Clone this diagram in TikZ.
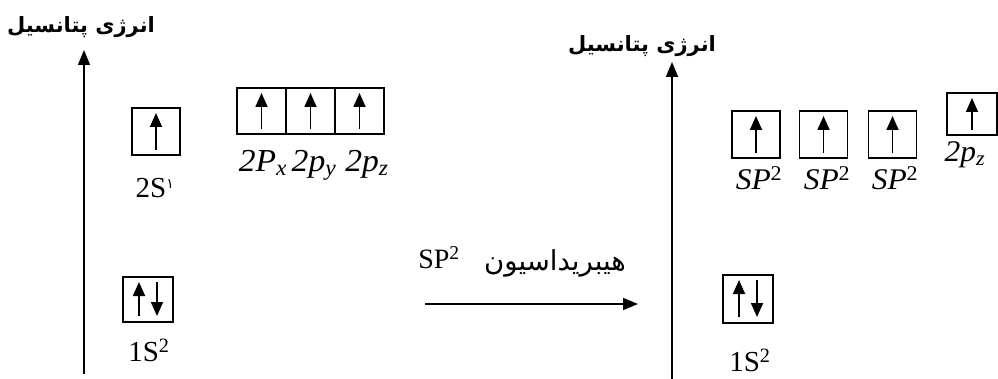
\documentclass[tikz,border=0pt]{standalone}
\usepackage{fontspec}
\setmainfont{Liberation Serif}
\newfontfamily\fa[Script=Arabic]{DejaVu Sans}
\newfontfamily\mi[FakeStretch=1.05]{Liberation Serif}
\TeXXeTstate=1
\usetikzlibrary{arrows.meta}
\begin{document}
\begin{tikzpicture}[x=1pt,y=-1pt,
  orb/.style={draw, line width=1.8pt, minimum width=48pt, minimum height=47pt, inner sep=0pt, outer sep=0pt},
  spin/.style={line width=1.8pt, -{Triangle[width=12pt,length=14pt]}},
  axisarrow/.style={line width=1.6pt, -{Triangle[width=12pt,length=15pt]}},
  lbl/.style={font=\fontsize{29}{32}\selectfont, inner sep=0pt},
  mlbl/.style={font=\mi\itshape\fontsize{32}{34}\selectfont, inner sep=0pt},
  slbl/.style={font=\mi\itshape\fontsize{30}{32}\selectfont, inner sep=0pt},
  ttl/.style={font=\fa\bfseries\fontsize{21}{24}\selectfont, inner sep=0pt}]
\useasboundingbox (0,0) rectangle (998,379);

% ---------- left diagram ----------
\node[ttl] (t1) at (81,27) {\beginR انرژی پتانسیل\endR};
\coordinate (a1b) at (84,374);
\coordinate (a1t) at (84,50);
\draw[axisarrow] (a1b) -- (a1t);

\node[orb] (s2) at (156,131.5) {};
\draw[spin] ([yshift=5pt]s2.south) -- ([yshift=-5pt]s2.north);
\node[lbl] (s2l) at (155,188) {2S\textsuperscript{\fa\fontsize{14}{14}\selectfont ۱}};

\node[orb, minimum width=49pt, minimum height=46pt] (px) at (261.5,111) {};
\node[orb, minimum width=49pt, minimum height=46pt] (py) at (310.5,111) {};
\node[orb, minimum width=49pt, minimum height=46pt] (pz) at (359.5,111) {};
\foreach \b in {px,py,pz}{
  \draw[spin] ([yshift=5pt]\b.south) -- ([yshift=-5pt]\b.north);
}
\node[mlbl, anchor=base] (plx) at (263,172) {2P\textsubscript{x}};
\node[mlbl, anchor=base] (ply) at (314,172) {2p\textsubscript{y}};
\node[mlbl, anchor=base] (plz) at (367,172) {2p\textsubscript{z}};

\node[orb, minimum width=50pt, minimum height=45pt] (s1) at (148,299.5) {};
\draw[spin] ([xshift=-9pt,yshift=6pt]s1.south) -- ([xshift=-9pt,yshift=-5pt]s1.north);
\draw[spin] ([xshift=9pt,yshift=-5pt]s1.north) -- ([xshift=9pt,yshift=6pt]s1.south);
\node[lbl] (s1l) at (149,350) {1S\textsuperscript{2}};

% ---------- middle arrow ----------
\coordinate (m1) at (425,304);
\coordinate (m2) at (638,304);
\draw[axisarrow] (m1) -- (m2);
\node[font=\fontsize{28}{30}\selectfont, inner sep=0pt] (hsp) at (439,258) {SP\textsuperscript{2}};
\node[font=\fa\fontsize{27.5}{30}\selectfont, inner sep=0pt] (hfa) at (555,263) {\beginR هیبریداسیون\endR};

% ---------- right diagram ----------
\node[ttl] (t2) at (642,46) {\beginR انرژی پتانسیل\endR};
\coordinate (a2b) at (672,379);
\coordinate (a2t) at (672,62);
\draw[axisarrow] (a2b) -- (a2t);

\node[orb] (h1) at (756,134.5) {};
\node[orb] (h2) at (823.5,134.5) {};
\node[orb] (h3) at (892.5,134.5) {};
\foreach \b in {h1,h2,h3}{
  \draw[spin] ([yshift=5pt]\b.south) -- ([yshift=-5pt]\b.north);
}
\node[slbl, anchor=base] (hl1) at (759,190) {SP\textsuperscript{\upshape 2}};
\node[slbl, anchor=base] (hl2) at (827,190) {SP\textsuperscript{\upshape 2}};
\node[slbl, anchor=base] (hl3) at (895,190) {SP\textsuperscript{\upshape 2}};

\node[orb, minimum width=50pt, minimum height=42pt] (p2) at (972,114) {};
\draw[spin] ([yshift=5pt]p2.south) -- ([yshift=-5pt]p2.north);
\node[slbl, anchor=base] (p2l) at (965,162) {2p\textsubscript{z}};

\node[orb, minimum width=50pt, minimum height=48pt] (r1) at (748,299) {};
\draw[spin] ([xshift=-9pt,yshift=6pt]r1.south) -- ([xshift=-9pt,yshift=-5pt]r1.north);
\draw[spin] ([xshift=9pt,yshift=-5pt]r1.north) -- ([xshift=9pt,yshift=6pt]r1.south);
\node[lbl] (r1l) at (750,360) {1S\textsuperscript{2}};
\end{tikzpicture}
\end{document}
